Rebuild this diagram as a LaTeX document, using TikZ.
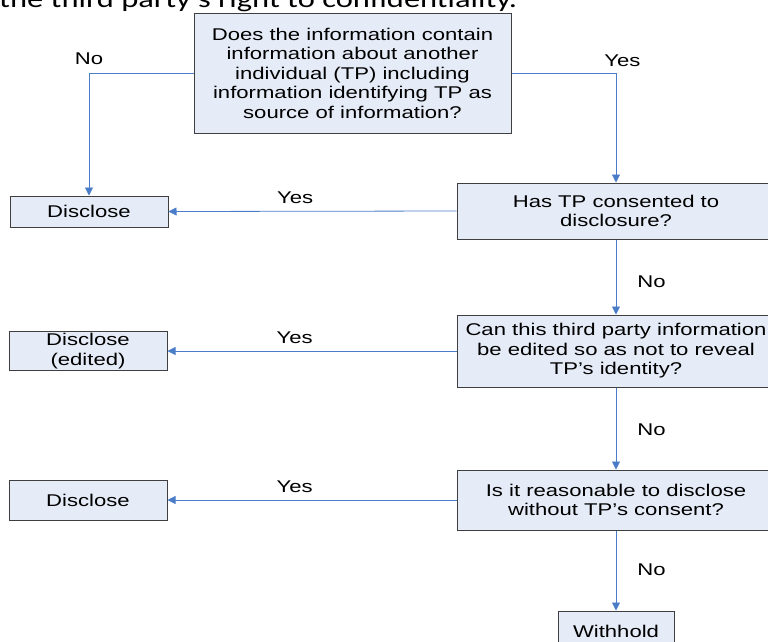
\documentclass[tikz,border=0pt]{standalone}
\usepackage{fontspec}
\setmainfont{Liberation Sans}[FakeStretch=1.3]
\newfontfamily\headfont{Carlito}[FakeStretch=1.3]
\usetikzlibrary{positioning,arrows.meta}
\definecolor{boxfill}{HTML}{E6ECF7}
\definecolor{boxline}{HTML}{3F3F3F}
\definecolor{flowblue}{HTML}{4A7CC8}

\begin{document}
\begin{tikzpicture}[x=1pt,y=-1pt,
    box/.style={rectangle, draw=boxline, fill=boxfill, line width=1pt,
        align=center, inner sep=2pt, font=\fontsize{17}{19.5}\selectfont},
    qbox/.style={box, minimum width=318pt},
    dbox/.style={box, minimum width=158pt},
    flow/.style={draw=flowblue, line width=0.8pt,
        -{Triangle[length=8pt,width=8pt]}},
    lbl/.style={font=\fontsize{17}{19.5}\selectfont, inner sep=2pt}]

    \clip (0,0) rectangle (768,641);

    % cut-off heading line
    \node [anchor=base west, inner sep=0pt,
        font=\headfont\fontsize{25}{30}\selectfont] (head) at (-1,7)
        {the third party’s right to confidentiality.};

    % questions
    \node [box, minimum width=317pt, minimum height=120pt] (q1) at (352.5,73) {
        Does the information contain\\
        information about another\\
        individual (TP) including\\
        information identifying TP as\\
        source of information?};
    \node [qbox, minimum height=56pt] (q2) at (616,211)
        {Has TP consented to\\disclosure?};
    \node [qbox, minimum height=72pt, below=75pt of q2] (q3)
        {Can this third party information\\be edited so as not to reveal\\TP’s identity?};
    \node [qbox, minimum height=60pt, below=82pt of q3] (q4)
        {Is it reasonable to disclose\\without TP’s consent?};
    \node [box, minimum width=116pt, minimum height=40pt, below=80pt of q4] (wh)
        {Withhold};

    % outcomes
    \node [dbox, minimum height=31pt] (d1) at (89,211.5) {Disclose};
    \node [dbox, minimum height=39pt, left=289pt of q3] (d2) {Disclose\\(edited)};
    \node [dbox, minimum height=40pt, left=289pt of q4] (d3) {Disclose};

    % connectors
    \draw [flow] (q1.west) -| node [lbl, pos=0.5, above=6pt] {No} (d1.north);
    \draw [flow] (q1.east) -| node [lbl, pos=0.5, above=4pt, xshift=6.5pt] {Yes} (q2.north);
    \draw [flow] (q2.west) -- node [lbl, pos=0.56, above=5pt] {Yes} (d1.east);
    \draw [flow] (q3.west) -- node [lbl, pos=0.56, above=5pt] {Yes} (d2.east);
    \draw [flow] (q4.west) -- node [lbl, pos=0.56, above=5pt] {Yes} (d3.east);
    \draw [flow] (q2.south) -- node [lbl, pos=0.56, right=19pt] {No} (q3.north);
    \draw [flow] (q3.south) -- node [lbl, pos=0.52, right=19pt] {No} (q4.north);
    \draw [flow] (q4.south) -- node [lbl, pos=0.49, right=19pt] {No} (wh.north);

\end{tikzpicture}
\end{document}
